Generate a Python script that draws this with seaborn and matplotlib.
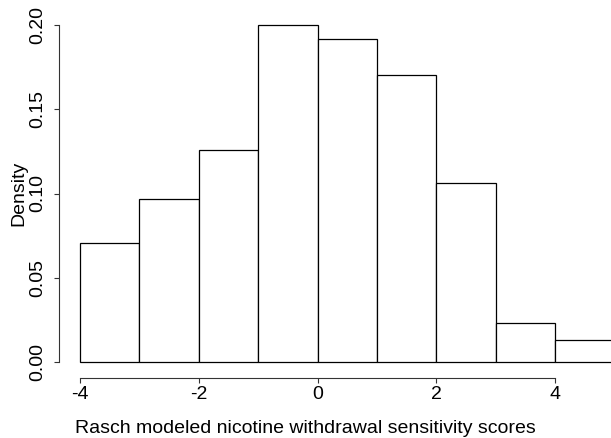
import numpy as np
import pandas as pd
import matplotlib
matplotlib.use("Agg")
import matplotlib.pyplot as plt
import seaborn as sns

# histogram bins and densities
bin_edges = [-4, -3, -2, -1, 0, 1, 2, 3, 4, 5]
densities = [0.0706, 0.0967, 0.1258, 0.2000, 0.1917, 0.1703, 0.1062, 0.0231, 0.0131]
x_ticks = [-4, -2, 0, 2, 4]
y_ticks = [0.00, 0.05, 0.10, 0.15, 0.20]

centers = [(a + b) / 2 for a, b in zip(bin_edges[:-1], bin_edges[1:])]
df = pd.DataFrame({"score": centers, "density": densities})

sns.set_style("white")
plt.rcParams["font.family"] = ["Liberation Sans", "DejaVu Sans"]
plt.rcParams["text.color"] = "black"
plt.rcParams["axes.labelcolor"] = "black"
plt.rcParams["xtick.color"] = "black"
plt.rcParams["ytick.color"] = "black"

fig = plt.figure(figsize=(6.11, 4.38), dpi=100)
W, H = 611, 438
ax = fig.add_axes([58.6 / W, (H - 375.5) / H, (636 - 58.6) / W, (375.5 - 11.5) / H])

sns.histplot(data=df, x="score", weights="density", bins=bin_edges, stat="count",
             color="white", edgecolor="black", linewidth=0.9, alpha=1, ax=ax)

ax.set_xlim(-4.36, 5.36)
ax.set_ylim(-0.008, 0.208)
ax.set_xticks(x_ticks)
ax.set_xticklabels([str(t) for t in x_ticks])
ax.set_yticks(y_ticks)
ax.set_yticklabels([f"{t:.2f}" for t in y_ticks], rotation=90, va="center")

for s in ["top", "right"]:
    ax.spines[s].set_visible(False)
ax.spines["bottom"].set_bounds(-4, 4)
ax.spines["left"].set_bounds(0, 0.2)
ax.spines["bottom"].set_position(("outward", 1.5))
for s in ["bottom", "left"]:
    ax.spines[s].set_color("#333333")
    ax.spines[s].set_linewidth(0.8)

ax.tick_params(axis="both", which="both", direction="out", length=3.6, width=0.8,
               color="#333333", labelsize=14, bottom=True, left=True)
ax.tick_params(axis="x", pad=2.5)
ax.tick_params(axis="y", pad=5.5)

ax.set_xlabel("Rasch modeled nicotine withdrawal sensitivity scores", fontsize=14, labelpad=12)
ax.xaxis.label.set_x((305 - 58.6) / (636 - 58.6))
ax.set_ylabel("Density", fontsize=14, labelpad=1)

fig.savefig("out.png", dpi=100)
